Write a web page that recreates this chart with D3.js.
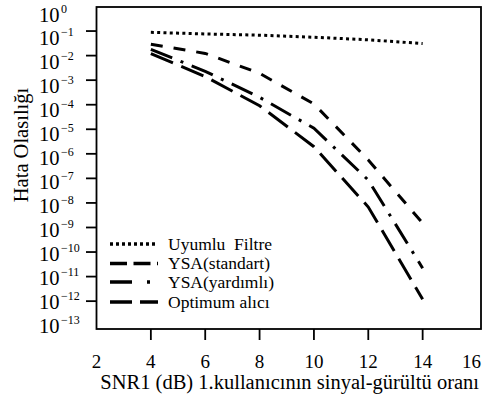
<!DOCTYPE html>
<html>
<head>
<meta charset="utf-8">
<script src="https://cdn.jsdelivr.net/npm/d3@7"></script>
<style>
body { margin: 0; background: #fff; }
svg { display: block; font-family: "Liberation Serif", "Times New Roman", serif; }
</style>
</head>
<body>
<svg width="482" height="398"></svg>
<script>
// data
var snr = [4, 6, 8, 10, 12, 14];
var uyumluFiltre = [0.089, 0.076, 0.068, 0.056, 0.044, 0.031];
var ysaStandart = [0.029, 0.0123, 0.0019, 1.07e-4, 5.6e-7, 1.5e-9];
var ysaYardimli = [0.018, 2.3e-3, 2.0e-4, 1.1e-5, 8.5e-8, 2.2e-11];
var optimumAlici = [0.012, 1.4e-3, 9.1e-5, 1.95e-6, 6.8e-9, 1.2e-12];

var xTicks = [2, 4, 6, 8, 10, 12, 14, 16];
var yExps = [0, 1, 2, 3, 4, 5, 6, 7, 8, 9, 10, 11, 12, 13];

var svg = d3.select("svg");

var x = d3.scaleLinear().domain([2, 16]).range([96.5, 477]);
var y = d3.scaleLog().domain([1, 1e-13]).range([6.5, 325.7]);
// tick labels sit on a slightly tighter spacing than the tick marks
var yLab = d3.scaleLog().domain([1, 1e-13]).range([21.5, 333]);

var series = [
    {name: "Uyumlu  Filtre", values: uyumluFiltre, dash: "3,3.3", legendDash: "3,3"},
    {name: "YSA(standart)", values: ysaStandart, dash: "12,11", legendDash: "17,6.5"},
    {name: "YSA(yardımlı)", values: ysaYardimli, dash: "23,9,3,9", legendDash: "22,15,3,10"},
    {name: "Optimum alıcı", values: optimumAlici, dash: "24,9", legendDash: "22,8"}
];

////////////////
// frame + ticks
////////////////
svg.append("rect")
    .attr("x", 96.5).attr("y", 7)
    .attr("width", 481 - 96.5).attr("height", 329 - 7)
    .attr("fill", "none").attr("stroke", "#000").attr("stroke-width", 1.8);

svg.selectAll(".ytick")
    .data(yExps.filter(function(e) { return e > 0 && e < 13; }))
    .enter().append("line")
    .attr("x1", 86).attr("x2", 96.5)
    .attr("y1", function(e) { return y(Math.pow(10, -e)); })
    .attr("y2", function(e) { return y(Math.pow(10, -e)); })
    .attr("stroke", "#000").attr("stroke-width", 1.8);

svg.selectAll(".xtick")
    .data(xTicks.filter(function(t) { return t > 2 && t < 16; }))
    .enter().append("line")
    .attr("x1", function(t) { return x(t); })
    .attr("x2", function(t) { return x(t); })
    .attr("y1", 329).attr("y2", 340)
    .attr("stroke", "#000").attr("stroke-width", 1.8);

// y tick labels 10^-k
var ylab = svg.selectAll(".ylab")
    .data(yExps)
    .enter().append("text")
    .attr("x", 39)
    .attr("y", function(e) { return yLab(Math.pow(10, -e)); })
    .style("font-size", "20.5px");
ylab.append("tspan").text("10");
ylab.append("tspan")
    .attr("dx", 1.5).attr("dy", -9)
    .style("font-size", "12px")
    .text(function(e) { return e == 0 ? "0" : "\u2212" + e; });

// x tick labels (last one kept inside the picture)
svg.selectAll(".xlab")
    .data(xTicks)
    .enter().append("text")
    .attr("x", function(t) { return t == 16 ? 481 : x(t); })
    .attr("y", 368)
    .attr("text-anchor", function(t) { return t == 16 ? "end" : "middle"; })
    .style("font-size", "19px")
    .text(function(t) { return t; });

// axis titles
svg.append("text")
    .attr("x", 479).attr("y", 389)
    .attr("text-anchor", "end")
    .style("font-size", "20.5px")
    .text("SNR1 (dB) 1.kullanıcının sinyal-gürültü oranı");

svg.append("text")
    .attr("transform", "translate(28,145) rotate(-90)")
    .attr("text-anchor", "middle")
    .style("font-size", "20.5px")
    .text("Hata Olasılığı");

////////////////
// curves
////////////////
var line = d3.line()
    .x(function(d) { return x(d[0]); })
    .y(function(d) { return y(d[1]); });

svg.selectAll(".curve")
    .data(series)
    .enter().append("path")
    .attr("d", function(s) { return line(snr.map(function(v, i) { return [v, s.values[i]]; })); })
    .attr("fill", "none")
    .attr("stroke", "#000")
    .attr("stroke-width", 3)
    .attr("stroke-dasharray", function(s) { return s.dash; });

////////////////
// legend
////////////////
var legendY = [244, 263.5, 282, 302];
var leg = svg.selectAll(".leg")
    .data(series)
    .enter().append("g")
    .attr("transform", function(s, i) { return "translate(0," + legendY[i] + ")"; });

leg.append("line")
    .attr("x1", 110).attr("x2", 158)
    .attr("y1", 0).attr("y2", 0)
    .attr("stroke", "#000").attr("stroke-width", 3.5)
    .attr("stroke-dasharray", function(s) { return s.legendDash; });

leg.append("text")
    .attr("x", 168).attr("y", 5.5)
    .style("font-size", "17.5px")
    .style("white-space", "pre")
    .text(function(s) { return s.name; });
</script>
</body>
</html>
